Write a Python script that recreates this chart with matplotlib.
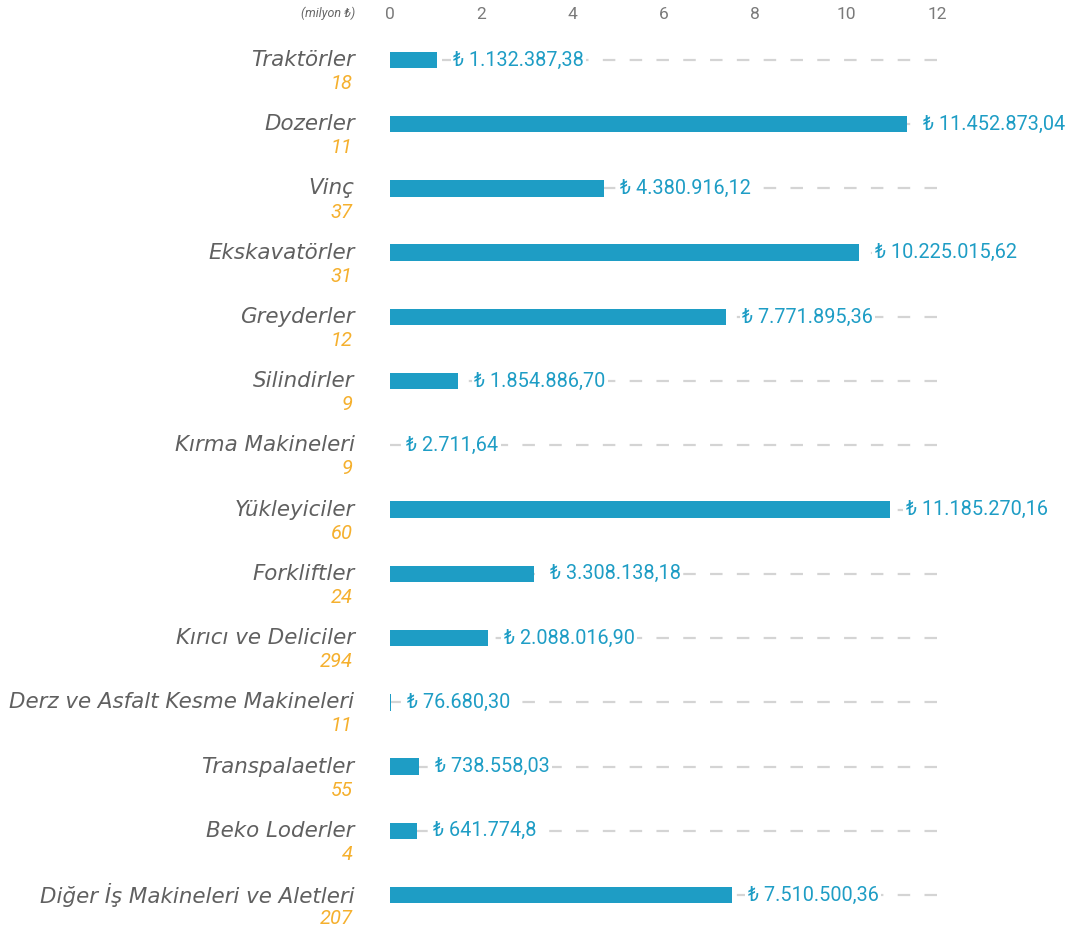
import matplotlib
matplotlib.use("Agg")
import matplotlib.pyplot as plt

# ---- data ----
categories = ["Traktörler", "Dozerler", "Vinç", "Ekskavatörler", "Greyderler",
              "Silindirler", "Kırma Makineleri", "Yükleyiciler", "Forkliftler",
              "Kırıcı ve Deliciler", "Derz ve Asfalt Kesme Makineleri",
              "Transpalaetler", "Beko Loderler", "Diğer İş Makineleri ve Aletleri"]
counts = [18, 11, 37, 31, 12, 9, 9, 60, 24, 294, 11, 55, 4, 207]
# bar lengths (milyon ₺) as drawn in the picture
bar_values = [1.03, 11.35, 4.70, 10.28, 7.37, 1.50, 0.003, 10.96, 3.15, 2.14,
              0.02, 0.64, 0.60, 7.50]
value_labels = ["1.132.387,38", "11.452.873,04", "4.380.916,12", "10.225.015,62",
                "7.771.895,36", "1.854.886,70", "2.711,64", "11.185.270,16",
                "3.308.138,18", "2.088.016,90", "76.680,30", "738.558,03",
                "641.774,8", "7.510.500,36"]
x_ticks = [0, 2, 4, 6, 8, 10, 12]
unit_label = "(milyon ₺)"

# ---- style ----
BAR = "#1e9dc5"
GRAY_TXT = "#606060"
ORANGE = "#f5b02e"
DASH = "#d4d4d4"
RFAM = ["Roboto", "DejaVu Sans"]
CFAM = ["DejaVu Sans"]
plt.rcParams["font.family"] = RFAM
plt.rcParams["lines.scale_dashes"] = False

W, H = 1069, 926
fig = plt.figure(figsize=(W / 100, H / 100), dpi=100)
left_px, right_px, top_px = 390, 937, 28
ax = fig.add_axes([left_px / W, 0, (right_px - left_px) / W, (H - top_px) / H])

n = len(categories)
ys = list(range(n))
row = 64.23
ax.set_xlim(0, 12)
ax.set_ylim(n - 1 + 31 / row, -32 / row)

# dashed guide lines, drawn from 12 back to the bar end
for y, v in zip(ys, bar_values):
    ax.plot([12, v], [y, y], color=DASH, lw=1.6, dashes=(9.0, 10.3),
            solid_capstyle="butt", dash_capstyle="butt", zorder=1)

ax.barh(ys, bar_values, height=16.4 / row, color=BAR, zorder=3)

for y, v, lab in zip(ys, bar_values, value_labels):
    ax.annotate("₺ " + lab, xy=(v, y), xytext=(11.5, 0), textcoords="offset points",
                ha="left", va="center", fontsize=14.3, color=BAR, family=RFAM,
                bbox=dict(boxstyle="square,pad=0.12", fc="white", ec="none"),
                zorder=4)

for y, c, k in zip(ys, categories, counts):
    ax.annotate(c, xy=(0, y), xytext=(-25.5, 0), textcoords="offset points",
                ha="right", va="center", fontsize=15.4, color=GRAY_TXT,
                style="oblique", family=CFAM, annotation_clip=False)
    ax.annotate(str(k), xy=(0, y), xytext=(-27.0, -17.0), textcoords="offset points",
                ha="right", va="center", fontsize=14.5, color=ORANGE,
                style="italic", family=RFAM, annotation_clip=False)

ax.xaxis.tick_top()
ax.set_xticks(x_ticks)
ax.set_xticklabels([str(t) for t in x_ticks])
ax.tick_params(axis="x", length=0, pad=4.5, labelsize=12.5, labelcolor="#7a7a7a")
for t in ax.get_xticklabels():
    t.set_family(RFAM)
ax.set_yticks([])
for s in ax.spines.values():
    s.set_visible(False)

fig.text(355 / W, 1 - 13 / H, unit_label, ha="right", va="center",
         fontsize=9, color="#666666", style="italic", family=RFAM)

fig.savefig("out.png", dpi=100, facecolor="white")
